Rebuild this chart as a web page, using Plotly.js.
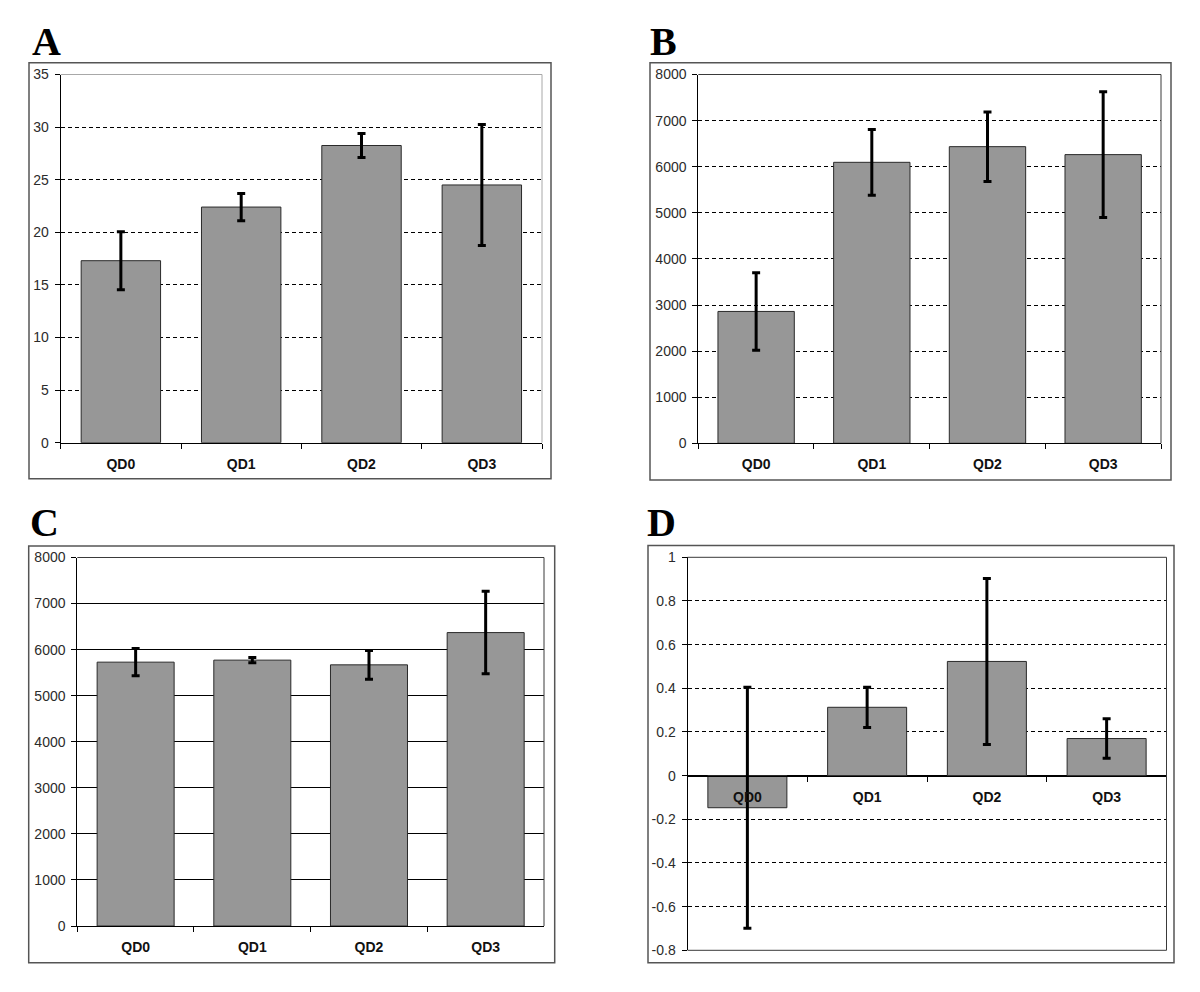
<!DOCTYPE html>
<html>
<head>
<meta charset="utf-8">
<script src="https://cdn.plot.ly/plotly-3.0.1.min.js"></script>
<style>
  html, body { margin: 0; padding: 0; background: #fff; }
  #chart { width: 1200px; height: 992px; }
</style>
</head>
<body>
<div id="chart"></div>
<script>
// categorias (iguais nos quatro painéis)
const categories = ['QD0', 'QD1', 'QD2', 'QD3'];

// painel A
const aMean = [17.3, 22.4, 28.25, 24.5];
const aErr  = [2.75, 1.3, 1.15, 5.75];
// painel B
const bMean = [2860, 6095, 6435, 6262];
const bErr  = [840, 714, 754, 1364];
// painel C
const cMean = [5728, 5772, 5670, 6370];
const cErr  = [295, 55, 312, 895];
// painel D
const dMean = [-0.147, 0.313, 0.523, 0.17];
const dErr  = [0.552, 0.092, 0.38, 0.09];
const dTickVals = [-0.8, -0.6, -0.4, -0.2, 0, 0.2, 0.4, 0.6, 0.8, 1];
const dTickText = ['-0.8', '-0.6', '-0.4', '-0.2', '0', '0.2', '0.4', '0.6', '0.8', '1'];

const panelLetters = ['A', 'B', 'C', 'D'];

const W = 1200, H = 992;
const px = x => x / W;          // pixel -> fração do papel (horizontal)
const py = y => 1 - y / H;      // pixel -> fração do papel (vertical)

// áreas de plotagem em pixels: [esquerda, topo, direita, base]
const plotBoxes = [
  [60.7, 74.5, 542, 442.7],
  [698.3, 74.5, 1161, 443.3],
  [77.3, 557.5, 544, 926],
  [687.5, 557.3, 1166.5, 950.3]
];
// caixas externas de cada gráfico
const outerBoxes = [
  [29, 62.7, 551, 478.7],
  [650, 62.7, 1171, 480],
  [28.7, 546, 554.7, 962.7],
  [648, 545.5, 1174, 962.7]
];
const letterPos = [[30, 41], [648, 41], [28, 522], [645, 522]];

const means = [aMean, bMean, cMean, dMean];
const errs = [aErr, bErr, cErr, dErr];

const traces = means.map((m, i) => ({
  type: 'bar',
  x: categories,
  y: m,
  xaxis: 'x' + (i + 1),
  yaxis: 'y' + (i + 1),
  marker: { color: '#979797', line: { color: '#2a2a2a', width: 1 } },
  error_y: { type: 'data', array: errs[i], visible: true, color: '#000', thickness: 3, width: 4 },
  showlegend: false,
  hoverinfo: 'x+y'
}));

const tickFont = { family: 'Liberation Sans, Arial, sans-serif', size: 14, color: '#2b2b2b' };
const catFont = { family: 'Liberation Sans, Arial, sans-serif', size: 14, color: '#111', weight: 'bold' };

const layout = {
  width: W,
  height: H,
  margin: { l: 0, r: 0, t: 0, b: 0 },
  paper_bgcolor: '#fff',
  plot_bgcolor: '#fff',
  bargap: 0.34,
  shapes: [],
  annotations: []
};

const yRanges = [[0, 35], [0, 8000], [0, 8000], [-0.8, 1]];
const yDticks = [5, 1000, 1000, 0.2];
const borderColors = ['#a8a8a8', '#3a3a3a', '#3a3a3a', '#3a3a3a'];

plotBoxes.forEach((b, i) => {
  const n = i + 1;
  const xDom = [px(b[0]), px(b[2])];
  const yDom = [py(b[3]), py(b[1])];
  const yr = yRanges[i];

  const xa = {
    domain: xDom,
    anchor: 'y' + n,
    type: 'category',
    showline: true,
    linecolor: '#000',
    linewidth: 1,
    ticks: 'outside',
    ticklen: 5,
    tickcolor: '#000',
    tickson: 'boundaries',
    showgrid: false,
    tickfont: catFont,
    ticklabelstandoff: 8,
    fixedrange: true
  };
  if (i === 3) {
    // eixo x do painel D cruza o zero
    xa.anchor = 'free';
    xa.position = yDom[0] + (0 - yr[0]) / (yr[1] - yr[0]) * (yDom[1] - yDom[0]);
    xa.ticklabelstandoff = 9;
  }

  const ya = {
    domain: yDom,
    anchor: 'x' + n,
    range: yr,
    dtick: yDticks[i],
    showline: true,
    linecolor: '#000',
    linewidth: 1,
    ticks: 'outside',
    ticklen: 5,
    tickcolor: '#000',
    tickfont: tickFont,
    ticklabelstandoff: 3,
    showgrid: true,
    gridcolor: '#000',
    gridwidth: 1,
    griddash: i === 2 ? 'solid' : '4px,3px',
    zeroline: i === 3,
    zerolinecolor: '#000',
    zerolinewidth: 1,
    fixedrange: true
  };
  if (i === 3) {
    ya.tickmode = 'array';
    ya.tickvals = dTickVals;
    ya.ticktext = dTickText;
  }

  layout['xaxis' + n] = xa;
  layout['yaxis' + n] = ya;

  // borda da área de plotagem (topo e direita; base também no D)
  const lines = [
    [0, 1, 1, 1],
    [1, 0, 1, 1]
  ];
  if (i === 3) lines.push([0, 0, 1, 0]);
  lines.forEach(l => {
    layout.shapes.push({
      type: 'line', layer: 'above',
      xref: 'x' + n + ' domain', yref: 'y' + n + ' domain',
      x0: l[0], y0: l[1], x1: l[2], y1: l[3],
      line: { color: borderColors[i], width: 1 }
    });
  });

  // caixa externa
  const o = outerBoxes[i];
  layout.shapes.push({
    type: 'rect', layer: 'below',
    xref: 'paper', yref: 'paper',
    x0: px(o[0]), x1: px(o[2]), y0: py(o[3]), y1: py(o[1]),
    line: { color: '#555', width: 1.5 }
  });

  // letra do painel
  layout.annotations.push({
    xref: 'paper', yref: 'paper',
    x: px(letterPos[i][0]), y: py(letterPos[i][1]),
    xanchor: 'left', yanchor: 'middle',
    text: panelLetters[i],
    showarrow: false,
    font: { family: 'Liberation Serif, Times New Roman, serif', size: 40, color: '#000', weight: 'bold' }
  });
});

Plotly.newPlot('chart', traces, layout, { staticPlot: true, displayModeBar: false });
</script>
</body>
</html>
